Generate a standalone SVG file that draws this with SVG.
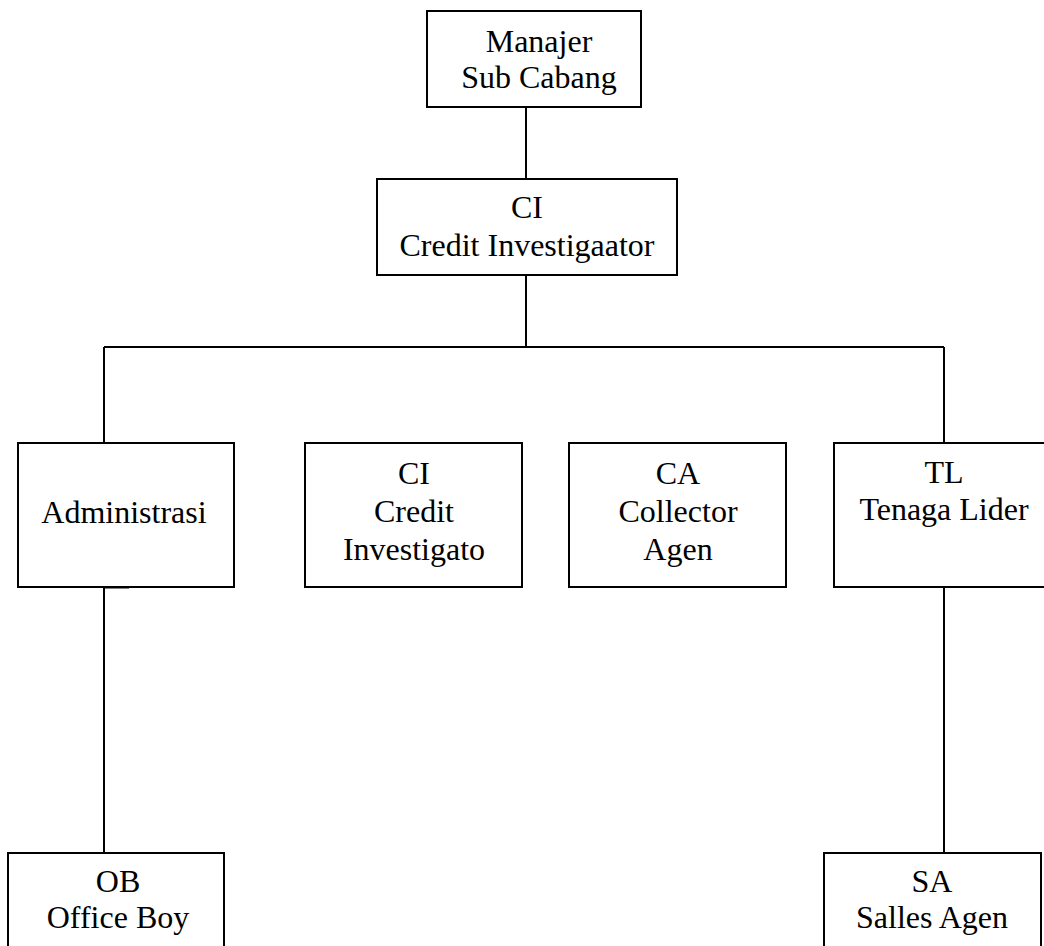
<svg xmlns="http://www.w3.org/2000/svg" width="1044" height="946" viewBox="0 0 1044 946">
<style>
.box{fill:#fff;stroke:#000;stroke-width:2}
.ln{stroke:#000;stroke-width:2;fill:none}
text{font-family:"Liberation Serif","Times New Roman",serif;font-size:32px;fill:#000;text-anchor:middle}
</style>
<rect width="1044" height="946" fill="#fff"/>
<g id="connectors">
<line class="ln" x1="526" y1="107" x2="526" y2="179"/>
<line class="ln" x1="526" y1="275" x2="526" y2="347"/>
<line class="ln" x1="104" y1="347" x2="944" y2="347"/>
<line class="ln" x1="104" y1="347" x2="104" y2="443"/>
<line class="ln" x1="944" y1="347" x2="944" y2="443"/>
<line class="ln" x1="104" y1="587" x2="104" y2="853"/>
<line x1="104" y1="587" x2="129" y2="587" stroke="#000" stroke-width="3"/>
<line class="ln" x1="944" y1="587" x2="944" y2="853"/>
</g>
<g id="manajer">
<rect class="box" x="427" y="11" width="214" height="96"/>
<text x="539" y="52">Manajer</text>
<text x="539" y="88">Sub Cabang</text>
</g>
<g id="ci-top">
<rect class="box" x="377" y="179" width="300" height="96"/>
<text x="527" y="218">CI</text>
<text x="527" y="256">Credit Investigaator</text>
</g>
<g id="administrasi">
<rect class="box" x="18" y="443" width="216" height="144"/>
<text x="124" y="523">Administrasi</text>
</g>
<g id="ci">
<rect class="box" x="305" y="443" width="217" height="144"/>
<text x="414" y="484">CI</text>
<text x="414" y="522">Credit</text>
<text x="414" y="560">Investigato</text>
</g>
<g id="ca">
<rect class="box" x="569" y="443" width="217" height="144"/>
<text x="678" y="484">CA</text>
<text x="678" y="522">Collector</text>
<text x="678" y="560">Agen</text>
</g>
<g id="tl">
<rect class="box" x="834" y="443" width="217" height="144"/>
<text x="944" y="483">TL</text>
<text x="944" y="520">Tenaga Lider</text>
</g>
<g id="ob">
<rect class="box" x="8" y="853" width="216" height="110"/>
<text x="118" y="892">OB</text>
<text x="118" y="928">Office Boy</text>
</g>
<g id="sa">
<rect class="box" x="824" y="853" width="217" height="110"/>
<text x="932" y="892">SA</text>
<text x="932" y="928">Salles Agen</text>
</g>
</svg>
